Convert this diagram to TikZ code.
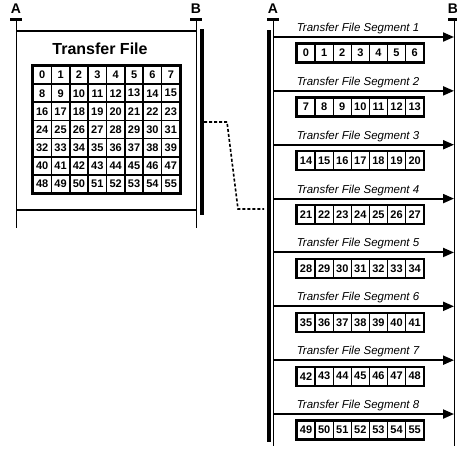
\documentclass[tikz,border=0pt]{standalone}
\usepackage{fontspec}
\setmainfont{Liberation Sans}
\usetikzlibrary{arrows.meta}
\begin{document}
\begin{tikzpicture}[x=1pt,y=-1pt,
  life/.style={line width=0.9pt},
  capbar/.style={line width=3pt},
  thickbar/.style={line width=4pt},
  frameline/.style={line width=2pt},
  lbl/.style={font=\bfseries\fontsize{14}{14}\selectfont, inner sep=0pt},
  title/.style={font=\bfseries\fontsize{16}{16}\selectfont, inner sep=0pt},
  seglbl/.style={font=\itshape\fontsize{11.5}{11.5}\selectfont, inner sep=0pt},
  cell/.style={draw, line width=1.6pt, minimum width=18.375pt, minimum height=18.14pt, inner sep=0pt, font=\bfseries\fontsize{11}{11}\selectfont},
  segcell/.style={draw, line width=1.3pt, minimum width=18.1pt, minimum height=18pt, inner sep=0pt, font=\bfseries\fontsize{11}{11}\selectfont},
  msg/.style={line width=2pt, -{Triangle[length=11pt,width=9pt]}},
  conn/.style={line width=1.6pt, dash pattern=on 3pt off 2pt}
]
\useasboundingbox (0,0) rectangle (457,451);
% left part
\node[lbl] (LA) at (16,9) {A};
\node[lbl] (LB) at (196,9) {B};
\coordinate (LAt) at (16,19); \coordinate (LAb) at (16,228);
\coordinate (LBt) at (196,19); \coordinate (LBb) at (196,228);
\draw[life] (LAt) -- (LAb);
\draw[life] (LBt) -- (LBb);
\draw[capbar] (10,19) -- (22,19);
\draw[capbar] (190,19) -- (202,19);
\draw[frameline] (16,31) -- (196,31);
\draw[frameline] (16,210) -- (196,210);
\coordinate (TBt) at (202,29); \coordinate (TBb) at (202,215);
\draw[thickbar] (TBt) -- (TBb);
\node[title] (TF) at (100,49) {Transfer File};
\foreach \r in {0,...,6} {
  \foreach \c in {0,...,7} {
    \pgfmathtruncatemacro\n{8*\r+\c}
    \node[cell] (g\n) at ({33+18.375*(\c+0.5)},{66+18.14*(\r+0.5)}) {\n};
  }
}
\draw[line width=2.2pt] (g0.north west) rectangle (g55.south east);
% connector
\coordinate (c0) at (204,122);
\coordinate (c1) at (227,122);
\coordinate (c2) at (238,209);
\coordinate (c3) at (264,209);
\draw[conn] (c0) -- (c1) -- (c2) -- (c3);
% right part
\node[lbl] (RA) at (273,9) {A};
\node[lbl] (RB) at (453,9) {B};
\coordinate (RAt) at (273,19); \coordinate (RAb) at (273,446);
\coordinate (RBt) at (454,19); \coordinate (RBb) at (454,446);
\draw[life] (RAt) -- (RAb);
\draw[life] (RBt) -- (RBb);
\draw[capbar] (267,19) -- (279,19);
\draw[capbar] (448,19) -- (460,19);
\coordinate (RTt) at (269,30); \coordinate (RTb) at (269,442);
\draw[thickbar] (RTt) -- (RTb);
\foreach \s in {1,...,8} {
  \pgfmathsetmacro\yy{37+53.86*(\s-1)}
  \coordinate (a\s) at (273,\yy);
  \coordinate (b\s) at (454,\yy);
  \draw[msg] (a\s) -- (b\s);
  \node[seglbl] (l\s) at (358,\yy-8.5) {Transfer File Segment \s};
  \foreach \k in {0,...,6} {
    \pgfmathtruncatemacro\n{7*(\s-1)+\k}
    \node[segcell] (s\n) at ({297+18.1*(\k+0.5)},\yy+16) {\n};
  }
  \pgfmathtruncatemacro\first{7*(\s-1)}
  \pgfmathtruncatemacro\last{7*(\s-1)+6}
  \draw[line width=2pt] (s\first.north west) rectangle (s\last.south east);
}
\end{tikzpicture}
\end{document}
